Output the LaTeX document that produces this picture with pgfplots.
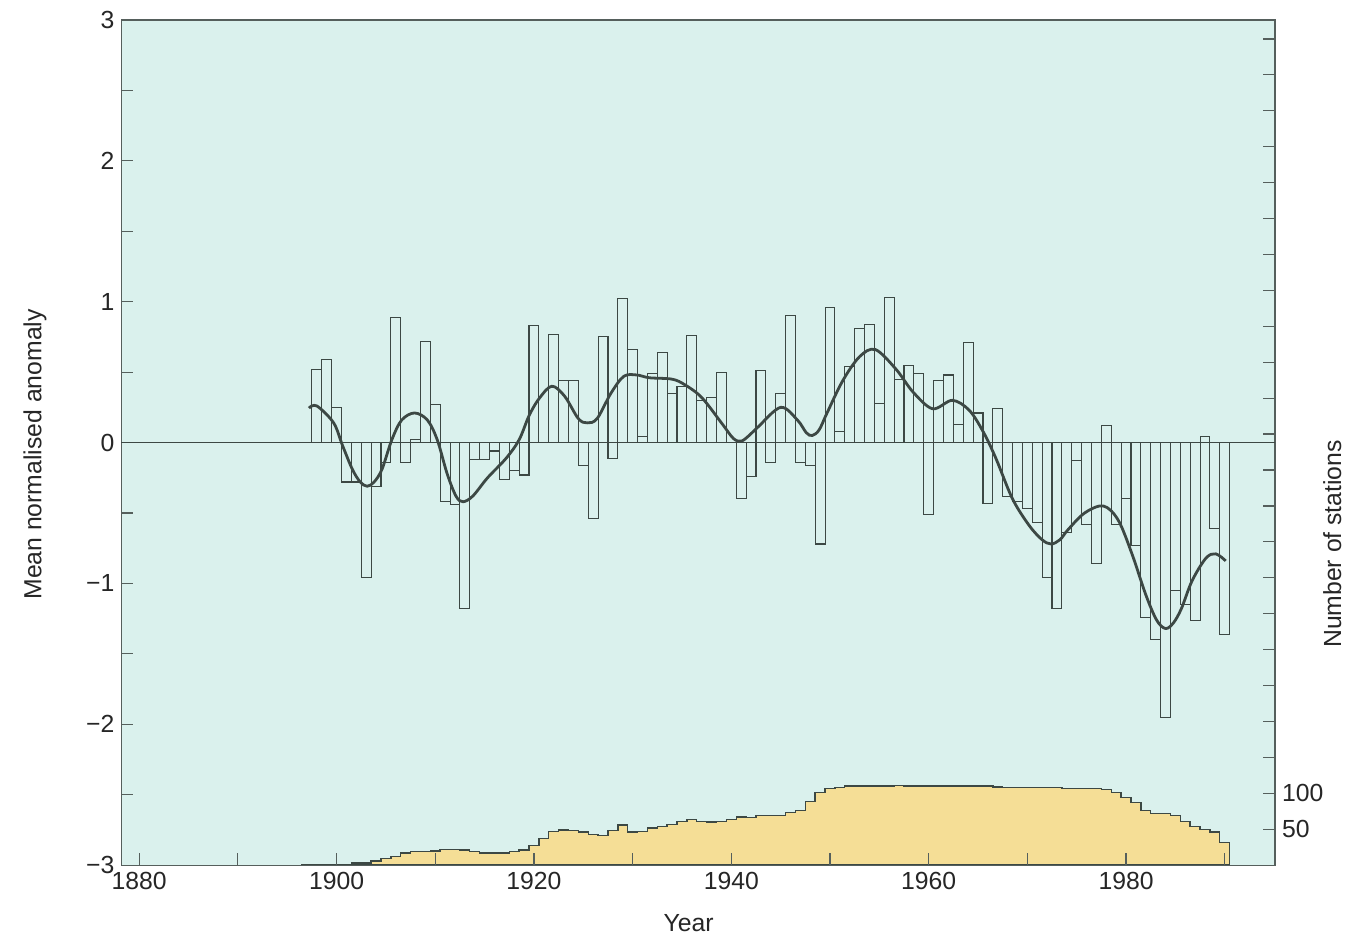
\documentclass[border=0pt]{standalone}
\usepackage{fontspec}
\setmainfont{Liberation Sans}
\usepackage{pgfplots}
\pgfplotsset{compat=1.18}
\definecolor{bgc}{RGB}{218,241,237}
\definecolor{stf}{RGB}{245,222,150}
\definecolor{ink}{RGB}{60,72,68}
\definecolor{axc}{RGB}{85,95,92}
\begin{document}
\begin{tikzpicture}[font=\fontsize{12.4}{14}\selectfont]
% ---------- station counts (right axis) ----------
\begin{axis}[
  name=st, scale only axis, width=578pt, height=423.5pt,
  xmin=1878.2, xmax=1995.1, ymin=0, ymax=1176.4,
  axis background/.style={fill=bgc},
  axis x line=none, axis y line*=right,
  axis line style={draw=axc, line width=0.6pt},
  ytick={50,100}, yticklabels={50,100},
  minor ytick={150,200,...,1150},
  tick align=inside, major tick length=6pt, minor tick length=6pt,
  every tick/.style={draw=axc, line width=0.6pt},
  ylabel={Number of stations},
  ylabel style={at={(axis description cs:1.0496,0.38)}, anchor=center},
  tick label style={font=\fontsize{12.4}{14}\selectfont, text=black!85},
  label style={font=\fontsize{12.4}{14}\selectfont, text=black!85},
]
\addplot[const plot, draw=ink, line width=0.7pt, fill=stf] coordinates {
(1896.5,1) (1897.5,1) (1898.5,1) (1899.5,1) (1900.5,1) (1901.5,3) (1902.5,3)
(1903.5,6) (1904.5,9) (1905.5,12) (1906.5,17) (1907.5,19) (1908.5,19) (1909.5,20)
(1910.5,22) (1911.5,22) (1912.5,21) (1913.5,19) (1914.5,17) (1915.5,17) (1916.5,17)
(1917.5,19) (1918.5,21) (1919.5,27) (1920.5,37) (1921.5,47) (1922.5,49) (1923.5,48)
(1924.5,46) (1925.5,43) (1926.5,41) (1927.5,48) (1928.5,56) (1929.5,46) (1930.5,47)
(1931.5,52) (1932.5,54) (1933.5,57) (1934.5,61) (1935.5,64) (1936.5,61) (1937.5,60)
(1938.5,61) (1939.5,64) (1940.5,67) (1941.5,66) (1942.5,69) (1943.5,69) (1944.5,69)
(1945.5,73) (1946.5,76) (1947.5,89) (1948.5,101) (1949.5,107) (1950.5,108) (1951.5,110)
(1952.5,110) (1953.5,110) (1954.5,110) (1955.5,110) (1956.5,111) (1957.5,110) (1958.5,110)
(1959.5,110) (1960.5,110) (1961.5,110) (1962.5,110) (1963.5,110) (1964.5,110) (1965.5,110)
(1966.5,109) (1967.5,108) (1968.5,108) (1969.5,108) (1970.5,108) (1971.5,108) (1972.5,108)
(1973.5,107) (1974.5,107) (1975.5,107) (1976.5,107) (1977.5,105) (1978.5,101) (1979.5,94)
(1980.5,87) (1981.5,76) (1982.5,72) (1983.5,72) (1984.5,69) (1985.5,61) (1986.5,54)
(1987.5,50) (1988.5,46) (1989.5,32) (1990.5,32)
} \closedcycle;
\end{axis}
% ---------- anomalies (left axis) ----------
\begin{axis}[
  name=main, scale only axis, width=578pt, height=423.5pt,
  xmin=1878.2, xmax=1995.1, ymin=-3, ymax=3,
  axis line style={draw=axc, line width=0.6pt},
  xtick={1880,1900,1920,1940,1960,1980},
  xticklabels={1880,1900,1920,1940,1960,1980},
  minor xtick={1890,1910,1930,1950,1970,1990},
  ytick={-3,-2,-1,0,1,2,3},
  yticklabels={−3,−2,−1,0,1,2,3},
  minor ytick={-2.5,-1.5,-0.5,0.5,1.5,2.5},
  xtick pos=bottom, ytick pos=left,
  tick align=inside, major tick length=6pt, minor tick length=6pt,
  every tick/.style={draw=axc, line width=0.6pt},
  xlabel={Year}, ylabel={Mean normalised anomaly},
  xlabel style={at={(axis description cs:0.4916,-0.068)}, anchor=center},
  ylabel style={at={(axis description cs:-0.075,0.486)}, anchor=center},
  tick label style={font=\fontsize{12.4}{14}\selectfont, text=black!85},
  label style={font=\fontsize{12.4}{14}\selectfont, text=black!85},
  clip=false,
]
\addplot[draw=ink, line width=0.5pt] coordinates {(1878.2,0) (1995.1,0)};
\addplot[ybar, bar width=1, bar shift=0pt, draw=ink, line width=0.55pt, fill=none] coordinates {
(1898,0.52) (1899,0.59) (1900,0.25) (1901,-0.28) (1902,-0.28) (1903,-0.96) (1904,-0.31)
(1905,-0.14) (1906,0.89) (1907,-0.14) (1908,0.02) (1909,0.72) (1910,0.27) (1911,-0.42)
(1912,-0.44) (1913,-1.18) (1914,-0.12) (1915,-0.12) (1916,-0.06) (1917,-0.26) (1918,-0.20)
(1919,-0.23) (1920,0.83) (1921,0.0) (1922,0.77) (1923,0.44) (1924,0.44) (1925,-0.16)
(1926,-0.54) (1927,0.75) (1928,-0.11) (1929,1.02) (1930,0.66) (1931,0.04) (1932,0.49)
(1933,0.64) (1934,0.35) (1935,0.40) (1936,0.76) (1937,0.30) (1938,0.32) (1939,0.50)
(1940,0.0) (1941,-0.40) (1942,-0.24) (1943,0.51) (1944,-0.14) (1945,0.35) (1946,0.90)
(1947,-0.14) (1948,-0.16) (1949,-0.72) (1950,0.96) (1951,0.08) (1952,0.54) (1953,0.81)
(1954,0.84) (1955,0.28) (1956,1.03) (1957,0.45) (1958,0.55) (1959,0.49) (1960,-0.51)
(1961,0.44) (1962,0.48) (1963,0.13) (1964,0.71) (1965,0.21) (1966,-0.43) (1967,0.24)
(1968,-0.38) (1969,-0.42) (1970,-0.47) (1971,-0.57) (1972,-0.96) (1973,-1.18) (1974,-0.64)
(1975,-0.13) (1976,-0.58) (1977,-0.86) (1978,0.12) (1979,-0.58) (1980,-0.40) (1981,-0.73)
(1982,-1.24) (1983,-1.40) (1984,-1.95) (1985,-1.05) (1986,-1.15) (1987,-1.26) (1988,0.04)
(1989,-0.61) (1990,-1.36)
};
\addplot[draw=ink, line width=1.4pt, smooth, tension=0.55] coordinates {
(1897.2,0.245) (1898,0.26) (1899.7,0.14) (1900.6,-0.02) (1901.6,-0.19) (1902.4,-0.28)
(1903.1,-0.31) (1903.8,-0.28) (1904.6,-0.19) (1905.6,0.02) (1906.6,0.16) (1907.9,0.21)
(1909.2,0.16) (1910.2,0.02) (1911.2,-0.22) (1912.1,-0.38) (1912.8,-0.42) (1913.8,-0.38)
(1915.3,-0.25) (1917.2,-0.11) (1918.5,0.02) (1919.5,0.19) (1920.5,0.31) (1921.8,0.40)
(1923.1,0.33) (1924.5,0.17) (1925.4,0.14) (1926.4,0.17) (1927.8,0.35) (1929.1,0.47)
(1930.4,0.48) (1931.7,0.46) (1934,0.45) (1935.3,0.41) (1937,0.32) (1939,0.14)
(1940.2,0.03) (1941,0.01) (1941.8,0.05) (1942.7,0.11) (1945,0.25) (1946.7,0.16)
(1947.6,0.07) (1948.2,0.05) (1948.9,0.09) (1949.7,0.21) (1951.3,0.44) (1953,0.61)
(1954.6,0.66) (1956.7,0.52) (1958.4,0.36) (1960.4,0.24) (1962.4,0.30) (1964.1,0.23)
(1965.5,0.08) (1966.8,-0.11) (1968.5,-0.40) (1970.2,-0.59) (1971.5,-0.69) (1972.4,-0.72)
(1973.3,-0.69) (1974.1,-0.62) (1975.8,-0.50) (1977.7,-0.45) (1979.2,-0.55) (1980.6,-0.79)
(1982,-1.08) (1983.1,-1.26) (1984,-1.32) (1984.8,-1.28) (1985.6,-1.18) (1986.7,-0.98)
(1988.1,-0.82) (1989.1,-0.79) (1990.1,-0.84)
};
\coordinate (ll) at (rel axis cs:0,0);
\coordinate (ur) at (rel axis cs:1,1);
\end{axis}
\path ([shift={(-60.85pt,-37pt)}]ll) rectangle ([shift={(35pt,10pt)}]ur);
\end{tikzpicture}
\end{document}
